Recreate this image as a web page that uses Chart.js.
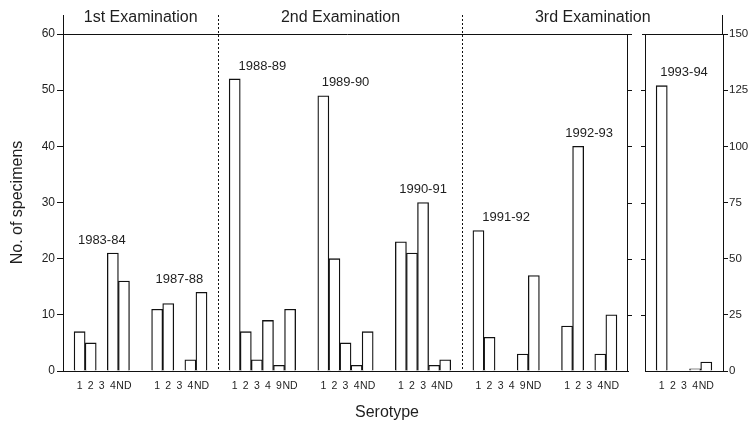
<!DOCTYPE html>
<html>
<head>
<meta charset="utf-8">
<title>Serotype by examination</title>
<script src="https://cdn.jsdelivr.net/npm/chart.js@4.4.1/dist/chart.umd.min.js"></script>
<style>
  html, body { margin: 0; padding: 0; background: #fff; }
  #wrap { position: relative; width: 749px; height: 425px; }
  #wrap canvas { position: absolute; left: 0; top: 0; }
</style>
</head>
<body>
<div id="wrap">
  <canvas id="left-chart" width="749" height="425"></canvas>
  <canvas id="right-chart" width="749" height="425"></canvas>
</div>
<script>
// data
const examTitles = ['1st Examination', '2nd Examination', '3rd Examination'];
const seasons = ['1983-84', '1987-88', '1988-89', '1989-90', '1990-91', '1991-92', '1992-93'];
const seasonExam = [0, 0, 1, 1, 1, 2, 2];
const serotypes = [
  ['1', '2', '3', '4', 'ND'],
  ['1', '2', '3', '4', 'ND'],
  ['1', '2', '3', '4', '9', 'ND'],
  ['1', '2', '3', '4', 'ND'],
  ['1', '2', '3', '4', 'ND'],
  ['1', '2', '3', '4', '9', 'ND'],
  ['1', '2', '3', '4', 'ND']
];
const counts = [
  [7, 5, 0, 21, 16],
  [11, 12, 0, 2, 14],
  [52, 7, 2, 9, 1, 11],
  [49, 20, 5, 1, 7],
  [23, 21, 30, 1, 2],
  [25, 6, 0, 0, 3, 17],
  [8, 40, 0, 3, 10]
];
const lastSeason = '1993-94';
const lastSerotypes = ['1', '2', '3', '4', 'ND'];
const lastCounts = [127, 0, 0, 1, 4];
const leftTicks = [0, 10, 20, 30, 40, 50, 60];
const rightTicks = [0, 25, 50, 75, 100, 125, 150];

const TEXT = '#1e1e1e';
const LINE = '#111';
const FONT = "'Liberation Sans', Arial, Helvetica, sans-serif";
const RIGHT_AXIS_W = 26;

// lay the left panel out in slots: one empty slot at the start, two between seasons
const leftLabels = [''];
const leftValues = [null];
const groupSlots = [];
const dividerSlots = [];
seasons.forEach((s, i) => {
  const first = leftLabels.length;
  serotypes[i].forEach((t, j) => {
    leftLabels.push(t);
    leftValues.push(counts[i][j]);
  });
  groupSlots.push([first, leftLabels.length - 1]);
  const gap = i < seasons.length - 1 ? 2 : 1;
  for (let g = 0; g < gap; g++) {
    leftLabels.push('');
    leftValues.push(null);
  }
  if (i < seasons.length - 1 && seasonExam[i + 1] !== seasonExam[i]) {
    dividerSlots.push(leftLabels.length - 1);
  }
});

const rightLabels = [''].concat(lastSerotypes, ['']);
const rightValues = [null].concat(lastCounts, [null]);

function line(ctx, x1, y1, x2, y2) {
  ctx.beginPath();
  ctx.moveTo(x1, y1);
  ctx.lineTo(x2, y2);
  ctx.stroke();
}

function seasonLabel(ctx, xScale, yScale, text, first, last, values) {
  const x = (xScale.getPixelForValue(first) + xScale.getPixelForValue(last)) / 2;
  const y = yScale.getPixelForValue(Math.max(...values)) - 13;
  ctx.font = `13px ${FONT}`;
  ctx.fillStyle = TEXT;
  ctx.textAlign = 'center';
  ctx.textBaseline = 'middle';
  ctx.fillText(text, x, y);
}

const leftDecor = {
  id: 'leftDecor',
  afterDraw(chart) {
    const { ctx, chartArea: a } = chart;
    const xs = chart.scales.x;
    const ys = chart.scales.y;
    const slotW = (a.right - a.left) / leftLabels.length;
    ctx.save();
    ctx.strokeStyle = LINE;
    ctx.lineWidth = 1;
    // frame: top line, axis stub above, right border with outward ticks
    line(ctx, a.left, a.top + 0.5, a.right + 4, a.top + 0.5);
    line(ctx, a.left + 0.5, 15, a.left + 0.5, a.top);
    line(ctx, a.right - 0.5, a.top, a.right - 0.5, a.bottom);
    leftTicks.slice(1, -1).forEach(v => {
      const y = Math.round(ys.getPixelForValue(v)) + 0.5;
      line(ctx, a.right, y, a.right + 4, y);
    });
    // dotted dividers between examinations
    const bounds = [a.left];
    ctx.setLineDash([2, 2]);
    dividerSlots.forEach(k => {
      const x = Math.round(xs.getPixelForValue(k) - slotW / 2) + 0.5;
      bounds.push(x);
      line(ctx, x, 15, x, a.bottom);
    });
    ctx.setLineDash([]);
    bounds.push(chart.width - RIGHT_AXIS_W);

    ctx.fillStyle = TEXT;
    ctx.textAlign = 'center';
    ctx.textBaseline = 'middle';
    ctx.font = `16px ${FONT}`;
    examTitles.forEach((t, i) => {
      ctx.fillText(t, (bounds[i] + bounds[i + 1]) / 2, 18);
    });
    ctx.fillText('Serotype', 387, 413);

    seasons.forEach((s, i) => {
      seasonLabel(ctx, xs, ys, s, groupSlots[i][0], groupSlots[i][1], counts[i]);
    });
    ctx.restore();
  }
};

const rightDecor = {
  id: 'rightDecor',
  afterDraw(chart) {
    const { ctx, chartArea: a } = chart;
    const xs = chart.scales.x;
    const ys = chart.scales.y;
    ctx.save();
    ctx.strokeStyle = LINE;
    ctx.lineWidth = 1;
    line(ctx, a.left - 3, a.top + 0.5, a.right, a.top + 0.5);
    line(ctx, a.right - 0.5, 15, a.right - 0.5, a.top);
    line(ctx, a.left + 0.5, a.top, a.left + 0.5, a.bottom);
    rightTicks.slice(1, -1).forEach(v => {
      const y = Math.round(ys.getPixelForValue(v)) + 0.5;
      line(ctx, a.left - 4, y, a.left, y);
    });
    seasonLabel(ctx, xs, ys, lastSeason, 1, lastSerotypes.length, lastCounts);
    ctx.restore();
  }
};

const barStyle = {
  backgroundColor: '#fff',
  borderColor: LINE,
  borderWidth: 1.3,
  barPercentage: 1,
  categoryPercentage: 1
};

const xAxis = labels => ({
  type: 'category',
  labels,
  grid: { display: false },
  border: { display: true, color: LINE, width: 1 },
  ticks: {
    autoSkip: false,
    maxRotation: 0,
    padding: 1,
    color: TEXT,
    font: { family: FONT, size: 10.5 }
  },
  afterFit: s => { s.height = 54; }
});

new Chart(document.getElementById('left-chart'), {
  type: 'bar',
  data: {
    labels: leftLabels,
    datasets: [{ label: 'Specimens', data: leftValues, ...barStyle }]
  },
  options: {
    responsive: false,
    animation: false,
    layout: { padding: { top: 34, right: 749 - 628, left: 0, bottom: 0 } },
    plugins: { legend: { display: false }, tooltip: { enabled: false } },
    scales: {
      x: xAxis(leftLabels),
      y: {
        min: 0,
        max: 60,
        afterBuildTicks: s => { s.ticks = leftTicks.map(v => ({ value: v })); },
        grid: { drawOnChartArea: false, color: LINE, tickLength: 6 },
        border: { color: LINE, width: 1 },
        ticks: { padding: 2, color: TEXT, font: { family: FONT, size: 12 } },
        title: {
          display: true,
          text: 'No. of specimens',
          color: TEXT,
          font: { family: FONT, size: 16 },
          padding: { top: 8, bottom: 0 }
        },
        afterFit: s => { s.width = 63; }
      }
    }
  },
  plugins: [leftDecor]
});

new Chart(document.getElementById('right-chart'), {
  type: 'bar',
  data: {
    labels: rightLabels,
    datasets: [{ label: lastSeason, data: rightValues, ...barStyle }]
  },
  options: {
    responsive: false,
    animation: false,
    layout: { padding: { top: 34, left: 645, right: 0, bottom: 0 } },
    plugins: { legend: { display: false }, tooltip: { enabled: false } },
    scales: {
      x: xAxis(rightLabels),
      y: {
        position: 'right',
        min: 0,
        max: 150,
        afterBuildTicks: s => { s.ticks = rightTicks.map(v => ({ value: v })); },
        grid: { drawOnChartArea: false, color: LINE, tickLength: 5 },
        border: { color: LINE, width: 1 },
        ticks: { padding: 1, color: TEXT, font: { family: FONT, size: 11.5 } },
        afterFit: s => { s.width = RIGHT_AXIS_W; }
      }
    }
  },
  plugins: [rightDecor]
});
</script>
</body>
</html>
